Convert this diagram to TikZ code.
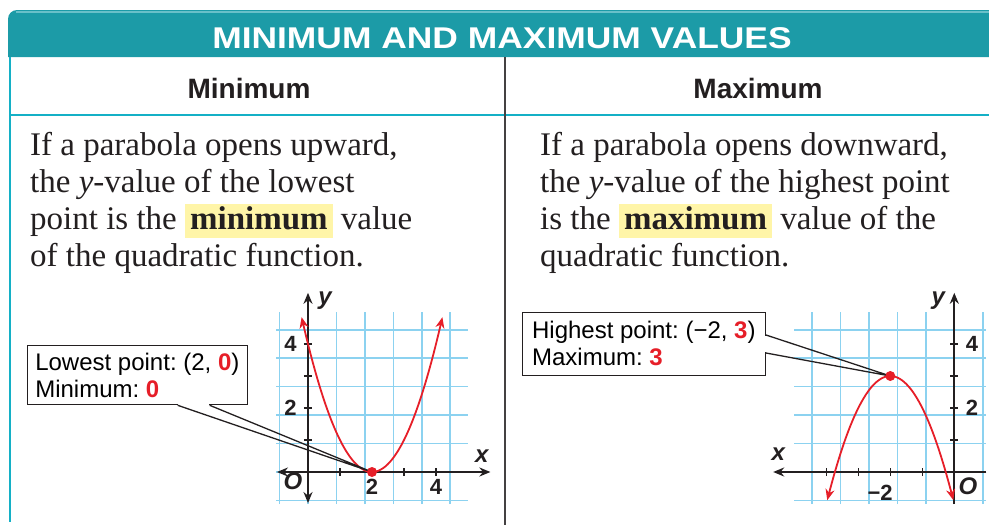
\documentclass[tikz,border=0pt]{standalone}
\usepackage{fontspec}
\usepackage{xcolor}
\usetikzlibrary{arrows.meta, calc, math}
\newfontfamily\bodyfont{Liberation Serif}
\newfontfamily\labelfont{Liberation Sans}
\newfontfamily\titlefont[FakeStretch=1.18]{Liberation Sans}
\definecolor{myteal}{RGB}{28,155,167}
\definecolor{mytealpale}{RGB}{105,192,201}
\definecolor{myline}{RGB}{20,176,198}
\definecolor{mygrid}{RGB}{140,210,240}
\definecolor{myred}{RGB}{230,30,40}
\definecolor{myink}{RGB}{35,31,32}
\definecolor{myhigh}{RGB}{255,245,168}

\newcommand{\hilite}[1]{{\setlength{\fboxsep}{0pt}\colorbox{myhigh}{\rule[-8.5pt]{0pt}{34pt}\hspace{5pt}\bfseries #1\hspace{5pt}}}}
\newcommand{\redval}[1]{{\color{myred}\bfseries #1}}

\begin{document}
\begin{tikzpicture}[x=1pt, y=-1pt, >={Stealth[length=11pt, width=9pt]},
  gridline/.style={mygrid, line width=1.7pt},
  axis/.style={myink, line width=1.8pt},
  curve/.style={myred, line width=1.8pt, <->},
  tick/.style={myink, line width=1.6pt},
  num/.style={font=\labelfont\bfseries\fontsize{22}{22}\selectfont, text=myink, inner sep=0pt},
  var/.style={font=\labelfont\bfseries\itshape\fontsize{24}{24}\selectfont, text=myink, inner sep=0pt},
  dot/.style={circle, fill=myred, inner sep=0pt, minimum size=10pt},
  callout/.style={draw=myink, fill=white, line width=1.3pt, align=left, inner sep=0pt,
    font=\labelfont\fontsize{24}{27}\selectfont\frenchspacing, text=black, anchor=north west},
  pointer/.style={myink, line width=1.3pt},
  para/.style={font=\bodyfont\fontsize{33}{37}\selectfont, text=myink, align=left, inner sep=0pt, anchor=base west},
  head/.style={font=\labelfont\bfseries\fontsize{28}{28}\selectfont, text=myink, inner sep=0pt, anchor=base}
]
\tikzmath{
\u=32;
}
\useasboundingbox (0,0) rectangle (989,525);

% banner and table rules
\fill[myteal] (8,57) {[rounded corners=9pt] -- (8,10) -- (1000,10)} -- (1000,57) -- cycle;
\draw[mytealpale, line width=2pt] (16,11.5) -- (989,11.5);
\node[font=\titlefont\bfseries\fontsize{30}{30}\selectfont, text=white, anchor=base, inner sep=0pt] (title) at (502,48) {MINIMUM AND MAXIMUM VALUES};
\draw[myline, line width=2pt] (10,57) -- (10,522);
\draw[myline, line width=2pt] (10,115) -- (989,115);
\draw[myink!85, line width=2pt] (505,57) -- (505,525);

\node[head] (minhead) at (249,98) {Minimum};
\node[head] (maxhead) at (758,98) {Maximum};

% base anchor sits on the last line
\node[para] (mintext) at (30,266) {If a parabola opens upward,\\the \textit{y}-value of the lowest\\point is the \hilite{minimum} value\\of the quadratic function.};
\node[para] (maxtext) at (540,266) {If a parabola opens downward,\\the \textit{y}-value of the highest point\\is the \hilite{maximum} value of the\\quadratic function.};

% minimum graph
\begin{scope}[shift={(308,472)}, x=\u pt, y=\u pt]
\draw[gridline] (-1,-1) grid (5,5);
\draw[axis, <->] (-0.97,0) -- (5.7,0);
\draw[axis, <->] (0,-0.97) -- (0,5.6);
\foreach \t in {1,...,4} {
  \draw[tick] (\t,-0.13) -- (\t,0.13);
  \draw[tick] (-0.13,\t) -- (0.13,\t);
}
\draw[curve] plot[domain=-0.2:4.2, samples=60, smooth] (\x,{(\x-2)^2});
\coordinate (minpt) at (2,0);
\node[num] (minx2) at (2,-0.46) {2};
\node[num] (minx4) at (4,-0.46) {4};
\node[num] (miny2) at (-0.55,2) {2};
\node[num] (miny4) at (-0.55,4) {4};
\node[var] (minO) at (-0.47,-0.3) {O};
\node[var] (minxlab) at (5.43,0.5) {x};
\node[var] (minylab) at (0.53,5.35) {y};
\end{scope}

% maximum graph
\begin{scope}[shift={(954.3,472)}, x=\u pt, y=\u pt]
\draw[gridline] (-5,-1) grid (1,5);
\draw[axis, ->] (1,0) -- (-5.66,0);
\draw[axis, ->] (0,-1) -- (0,5.6);
\foreach \t in {1,...,4} {
  \draw[tick] (-\t,-0.13) -- (-\t,0.13);
  \draw[tick] (-0.13,\t) -- (0.13,\t);
}
\draw[curve] plot[domain=-3.97:-0.03, samples=60, smooth] (\x,{3-(\x+2)^2});
\coordinate (maxpt) at (-2,3);
\node[num] (maxx2) at (-2.32,-0.64) {−2};
\node[num] (maxy2) at (0.55,2) {2};
\node[num] (maxy4) at (0.55,4) {4};
\node[var] (maxO) at (0.43,-0.46) {O};
\node[var] (maxxlab) at (-5.5,0.55) {x};
\node[var] (maxylab) at (-0.5,5.35) {y};
\end{scope}

% callouts
\node[callout, minimum width=220pt, minimum height=59pt] (lowbox) at (26.7,345) {Lowest point: (2, \redval{0})\\Minimum: \redval{0}};
\coordinate (lowp1) at ($(lowbox.south west)+(151,0)$);
\coordinate (lowp2) at ($(lowbox.south west)+(183,0)$);
\fill[white] ($(lowp1)+(0.7,-1.5)$) rectangle ($(lowp2)+(-0.7,1.5)$);
\draw[pointer] (lowp1) -- (minpt) -- (lowp2);

\node[callout, minimum width=243pt, minimum height=63pt] (highbox) at (521.7,311.7) {Highest point: (−2, \redval{3})\\Maximum: \redval{3}};
\coordinate (highp1) at ($(highbox.north east)+(0,23.3)$);
\coordinate (highp2) at ($(highbox.north east)+(0,41.3)$);
\fill[white] ($(highp1)+(-1.5,0.7)$) rectangle ($(highp2)+(1.5,-0.7)$);
\draw[pointer] (highp1) -- (maxpt) -- (highp2);

\node[dot] (mindot) at (minpt) {};
\node[dot] (maxdot) at (maxpt) {};
\end{tikzpicture}
\end{document}
